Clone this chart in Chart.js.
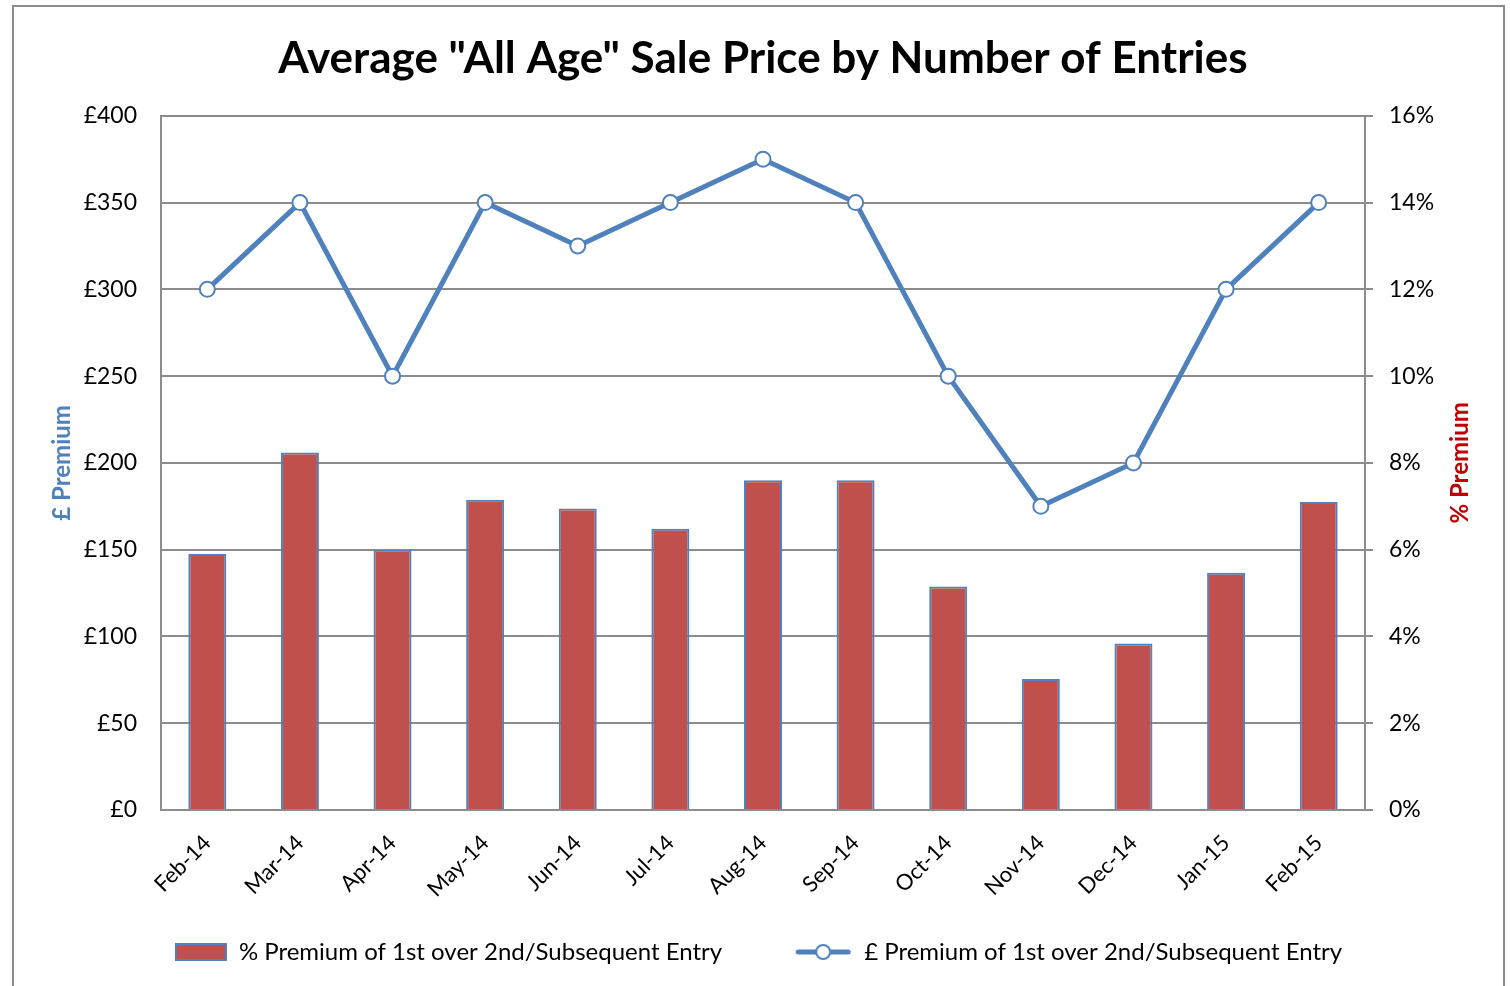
<!DOCTYPE html>
<html>
<head>
<meta charset="utf-8">
<script src="https://cdn.jsdelivr.net/npm/chart.js@4/dist/chart.umd.min.js"></script>
<style>
  body { margin: 0; background: #fff; }
  #wrap { position: absolute; left: 0; top: 0; width: 1510px; height: 986px; }
  #frame { position: absolute; left: 12px; top: 5px; width: 1489px; height: 1000px; border: 2px solid #8c8c8c; pointer-events: none; }
</style>
</head>
<body>
<div id="wrap">
  <canvas id="chart" width="1510" height="986"></canvas>
  <div id="frame"></div>
</div>
<script>
const months = ["Feb-14", "Mar-14", "Apr-14", "May-14", "Jun-14", "Jul-14", "Aug-14",
  "Sep-14", "Oct-14", "Nov-14", "Dec-14", "Jan-15", "Feb-15"]
const pctPremium = [5.9, 8.24, 6.0, 7.15, 6.95, 6.48, 7.6, 7.6, 5.15, 3.02, 3.84, 5.47, 7.1]
const poundPremium = [300, 350, 250, 350, 325, 350, 375, 350, 250, 175, 200, 300, 350]
const poundTicks = [0, 50, 100, 150, 200, 250, 300, 350, 400]
const pctTicks = [0, 2, 4, 6, 8, 10, 12, 14, 16]

const FONT = "Lato, 'Open Sans', sans-serif"
const BLUE = "#4F81BD"
const RED = "#C0504D"
const GRID = "#8c8c8c"

// legend swatches are 104 wide with the mark at the right end,
// the empty left part gives the gap between the two legend items
const SW = 104

function barSwatch() {
  const c = document.createElement("canvas")
  c.width = SW
  c.height = 18
  const g = c.getContext("2d")
  g.fillStyle = RED
  g.fillRect(SW - 51, 1, 50, 16)
  g.strokeStyle = BLUE
  g.lineWidth = 2
  g.strokeRect(SW - 51, 1, 50, 16)
  return c
}

function lineSwatch() {
  const c = document.createElement("canvas")
  c.width = SW
  c.height = 18
  const g = c.getContext("2d")
  g.strokeStyle = BLUE
  g.lineWidth = 5
  g.lineCap = "round"
  g.beginPath()
  g.moveTo(SW - 54, 9)
  g.lineTo(SW - 4, 9)
  g.stroke()
  g.beginPath()
  g.arc(SW - 29, 9, 7, 0, Math.PI * 2)
  g.fillStyle = "#fff"
  g.fill()
  g.lineWidth = 2
  g.stroke()
  return c
}

const swatches = [barSwatch(), lineSwatch()]

// right axis title reads bottom-to-top, so draw it by hand
const rightTitle = {
  id: "rightTitle",
  afterDraw(chart) {
    const ctx = chart.ctx
    const area = chart.chartArea
    ctx.save()
    ctx.translate(1460, (area.top + area.bottom) / 2)
    ctx.rotate(-Math.PI / 2)
    ctx.font = "bold 24px " + FONT
    ctx.fillStyle = "#C00000"
    ctx.textAlign = "center"
    ctx.textBaseline = "middle"
    ctx.fillText("% Premium", 0, 0)
    ctx.restore()
  },
}

new Chart(document.getElementById("chart"), {
  type: "bar",
  data: {
    labels: months,
    datasets: [
      {
        type: "bar",
        label: "% Premium of 1st over 2nd/Subsequent Entry",
        data: pctPremium,
        yAxisID: "y1",
        backgroundColor: RED,
        borderColor: BLUE,
        borderWidth: 2,
        categoryPercentage: 1,
        barPercentage: 0.41,
        order: 1,
      },
      {
        type: "line",
        label: "£ Premium of 1st over 2nd/Subsequent Entry",
        data: poundPremium,
        yAxisID: "y",
        borderColor: BLUE,
        borderWidth: 5,
        tension: 0,
        pointRadius: 7.5,
        pointBackgroundColor: "#fff",
        pointBorderColor: BLUE,
        pointBorderWidth: 2,
        order: 0,
      },
    ],
  },
  options: {
    responsive: false,
    animation: false,
    devicePixelRatio: 1,
    layout: { padding: { top: 0, bottom: 12, left: 0, right: 45 } },
    plugins: {
      title: {
        display: true,
        fullSize: false,
        text: 'Average "All Age" Sale Price by Number of Entries',
        color: "#000",
        font: { family: FONT, size: 44, weight: "bold", lineHeight: 1.2 },
        padding: { top: 32, bottom: 31 },
      },
      legend: {
        position: "bottom",
        labels: {
          usePointStyle: true,
          pointStyleWidth: SW,
          padding: 26,
          color: "#000",
          font: { family: FONT, size: 24 },
          generateLabels: (chart) =>
            chart.data.datasets.map((ds, i) => ({
              text: ds.label,
              pointStyle: swatches[i],
              fillStyle: "transparent",
              strokeStyle: "transparent",
              lineWidth: 0,
              datasetIndex: i,
              fontColor: "#000",
            })),
        },
      },
      tooltip: { enabled: false },
    },
    scales: {
      x: {
        grid: { display: false, drawTicks: false },
        border: { color: GRID, width: 2 },
        ticks: {
          color: "#000",
          font: { family: FONT, size: 22 },
          minRotation: 45,
          maxRotation: 45,
          padding: 20,
        },
        afterFit: (s) => { s.height = 104 },
      },
      y: {
        position: "left",
        min: 0,
        max: 400,
        afterBuildTicks: (s) => { s.ticks = poundTicks.map((v) => ({ value: v })) },
        grid: { color: GRID, lineWidth: 2, drawTicks: false },
        border: { color: GRID, width: 2 },
        ticks: {
          color: "#000",
          font: { family: FONT, size: 23 },
          padding: 24,
          callback: (v) => "£" + v,
        },
        title: {
          display: true,
          text: "£ Premium",
          color: BLUE,
          font: { family: FONT, size: 24, weight: "bold", lineHeight: 1.2 },
          padding: { top: 48 },
        },
        afterFit: (s) => { s.width = 161 },
      },
      y1: {
        position: "right",
        min: 0,
        max: 16,
        afterBuildTicks: (s) => { s.ticks = pctTicks.map((v) => ({ value: v })) },
        grid: { drawOnChartArea: false, color: GRID, lineWidth: 2, tickLength: 8 },
        border: { color: GRID, width: 2 },
        ticks: {
          color: "#000",
          font: { family: FONT, size: 23 },
          padding: 16,
          callback: (v) => v + "%",
        },
        afterFit: (s) => { s.width = 100 },
      },
    },
  },
  plugins: [rightTitle],
})
</script>
</body>
</html>
